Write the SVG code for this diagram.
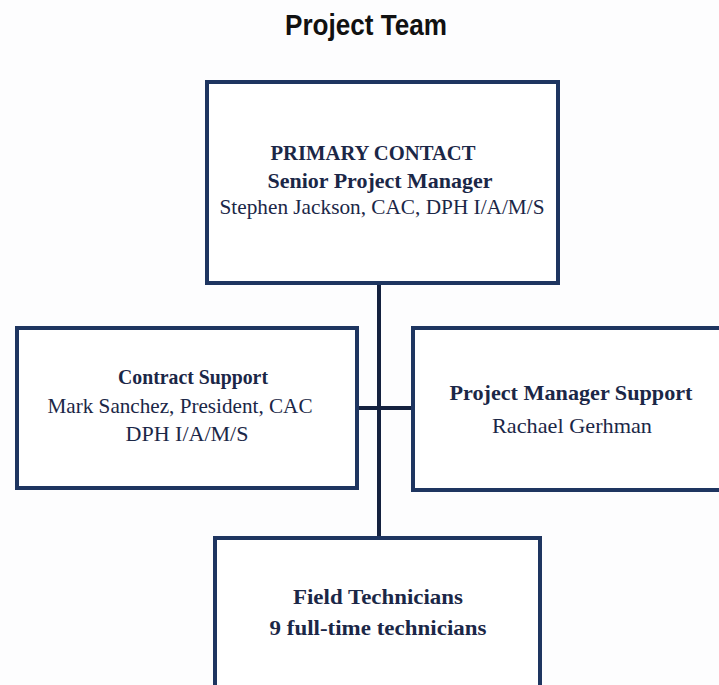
<svg xmlns="http://www.w3.org/2000/svg" width="719" height="685" viewBox="0 0 719 685">
<style>
.box{fill:#ffffff;stroke:#1e3560;stroke-width:4}
.conn{stroke:#14213f;stroke-width:4;fill:none}
.t{font-family:"Liberation Serif","Times New Roman",serif;font-size:21px;fill:#1b2747;text-anchor:middle}
.b{font-weight:bold}
.title{font-family:"Liberation Sans",Arial,sans-serif;font-weight:bold;font-size:29px;fill:#111;text-anchor:middle}
</style>
<rect width="719" height="685" fill="#fdfdfe"/>
<text class="title" x="366" y="35" textLength="162" lengthAdjust="spacingAndGlyphs">Project Team</text>
<g id="connectors">
<line class="conn" x1="379" y1="283" x2="379" y2="538"/>
<line class="conn" x1="357" y1="408" x2="413" y2="408"/>
</g>
<g id="primary">
<rect class="box" x="207" y="82" width="351" height="201"/>
<text class="t b" x="373" y="160" textLength="205" lengthAdjust="spacingAndGlyphs">PRIMARY CONTACT</text>
<text class="t b" x="380" y="188" textLength="225" lengthAdjust="spacingAndGlyphs">Senior Project Manager</text>
<text class="t" x="382" y="214" textLength="325" lengthAdjust="spacingAndGlyphs">Stephen Jackson, CAC, DPH I/A/M/S</text>
</g>
<g id="contract">
<rect class="box" x="17" y="328" width="340" height="160"/>
<text class="t b" x="193" y="384" textLength="150" lengthAdjust="spacingAndGlyphs">Contract Support</text>
<text class="t" x="180" y="413" textLength="265" lengthAdjust="spacingAndGlyphs">Mark Sanchez, President, CAC</text>
<text class="t" x="187" y="441" textLength="123" lengthAdjust="spacingAndGlyphs">DPH I/A/M/S</text>
</g>
<g id="pmsupport">
<rect class="box" x="413" y="328" width="320" height="162"/>
<text class="t b" x="571" y="400" textLength="243" lengthAdjust="spacingAndGlyphs">Project Manager Support</text>
<text class="t" x="572" y="433" textLength="160" lengthAdjust="spacingAndGlyphs">Rachael Gerhman</text>
</g>
<g id="field">
<rect class="box" x="215" y="538" width="325" height="160"/>
<text class="t b" x="378" y="604" textLength="170" lengthAdjust="spacingAndGlyphs">Field Technicians</text>
<text class="t b" x="378" y="635" textLength="217" lengthAdjust="spacingAndGlyphs">9 full-time technicians</text>
</g>
</svg>
